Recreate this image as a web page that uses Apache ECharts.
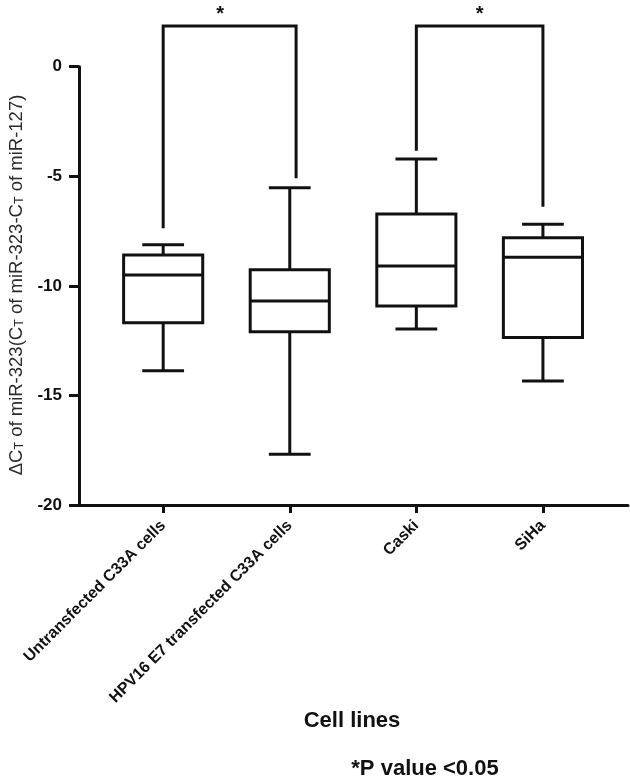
<!DOCTYPE html>
<html>
<head>
<meta charset="utf-8">
<script src="https://cdn.jsdelivr.net/npm/echarts@6/dist/echarts.min.js"></script>
<style>html,body{margin:0;padding:0;background:#fff}#c{width:630px;height:780px}</style>
</head>
<body>
<div id="c"></div>
<script>
// ---- data ----
const categories = ['Untransfected C33A cells', 'HPV16 E7 transfected C33A cells', 'Caski', 'SiHa'];
const whiskerMin = [-13.87, -17.68, -11.97, -14.34];
const q1 = [-11.68, -12.09, -10.92, -12.36];
const median = [-9.50, -10.69, -9.09, -8.70];
const q3 = [-8.59, -9.27, -6.72, -7.80];
const whiskerMax = [-8.13, -5.52, -4.21, -7.19];
const yTicks = [-20, -15, -10, -5, 0];
// significance brackets
const bracketLeftX = [0, 2.0];
const bracketRightX = [1.05, 3.0];
const bracketTopY = [1.86, 1.86];
const bracketLeftEnd = [-7.37, -3.83];
const bracketRightEnd = [-5.09, -6.39];
const starX = [0.45, 2.5];
const starY = [2.4, 2.4];
const starText = ['*', '*'];

// ---- style ----
const INK = '#111';
const LW = 3;
const BOX_W = 0.625;
const CAP_W = 0.33;
const FONT = 'Liberation Sans, Arial, Helvetica, sans-serif';

const boxData = categories.map((c, i) => [i, whiskerMin[i], q1[i], median[i], q3[i], whiskerMax[i]]);
const bracketData = bracketLeftX.map((x, i) => [x, bracketRightX[i], bracketTopY[i], bracketLeftEnd[i], bracketRightEnd[i]]);
const starData = starX.map((x, i) => [x, starY[i], starText[i]]);

function renderBox(params, api) {
  const x = api.value(0);
  const pMin = api.coord([x, api.value(1)]);
  const pQ1 = api.coord([x, api.value(2)]);
  const pMed = api.coord([x, api.value(3)]);
  const pQ3 = api.coord([x, api.value(4)]);
  const pMax = api.coord([x, api.value(5)]);
  const half = api.size([BOX_W, 0])[0] / 2;
  const capHalf = api.size([CAP_W, 0])[0] / 2;
  const cx = pMed[0];
  const ls = { stroke: INK, lineWidth: LW, fill: null };
  return {
    type: 'group',
    children: [
      { type: 'line', shape: { x1: cx, y1: pQ3[1], x2: cx, y2: pMax[1] }, style: ls },
      { type: 'line', shape: { x1: cx, y1: pQ1[1], x2: cx, y2: pMin[1] }, style: ls },
      { type: 'line', shape: { x1: cx - capHalf, y1: pMax[1], x2: cx + capHalf, y2: pMax[1] }, style: ls },
      { type: 'line', shape: { x1: cx - capHalf, y1: pMin[1], x2: cx + capHalf, y2: pMin[1] }, style: ls },
      { type: 'rect', shape: { x: cx - half, y: pQ3[1], width: 2 * half, height: pQ1[1] - pQ3[1] }, style: { stroke: INK, lineWidth: LW, fill: '#fff' } },
      { type: 'line', shape: { x1: cx - half, y1: pMed[1], x2: cx + half, y2: pMed[1] }, style: ls }
    ]
  };
}

function renderBracket(params, api) {
  const a = api.coord([api.value(0), api.value(3)]);
  const b = api.coord([api.value(0), api.value(2)]);
  const c = api.coord([api.value(1), api.value(2)]);
  const d = api.coord([api.value(1), api.value(4)]);
  return {
    type: 'polyline',
    shape: { points: [a, b, c, d] },
    style: { stroke: INK, lineWidth: LW, fill: null, lineJoin: 'miter' }
  };
}

function renderStar(params, api) {
  const p = api.coord([api.value(0), api.value(1)]);
  return {
    type: 'text',
    x: p[0], y: p[1],
    style: {
      text: starText[params.dataIndex],
      fill: INK, font: 'bold 20px ' + FONT,
      align: 'center', verticalAlign: 'middle',
      textAlign: 'center', textVerticalAlign: 'middle'
    }
  };
}

const chart = echarts.init(document.getElementById('c'), null, { renderer: 'canvas' });
chart.setOption({
  backgroundColor: '#fff',
  animation: false,
  grid: { left: 79, right: 2, top: 66.7, bottom: 275, containLabel: false },
  xAxis: {
    type: 'value',
    min: -0.665,
    max: 3.672,
    splitLine: { show: false },
    axisLine: { show: true, onZero: false, lineStyle: { color: INK, width: LW } },
    axisTick: { show: true, length: 8, lineStyle: { color: INK, width: LW }, customValues: [0, 1, 2, 3] },
    axisLabel: {
      customValues: [0, 1, 2, 3],
      formatter: v => categories[Math.round(v)],
      rotate: 45,
      margin: 18,
      color: INK,
      fontWeight: 'bold',
      fontSize: 16,
      fontFamily: FONT
    }
  },
  yAxis: {
    type: 'value',
    min: -20,
    max: 0,
    interval: 5,
    splitLine: { show: false },
    axisLine: { show: true, onZero: false, lineStyle: { color: INK, width: LW } },
    axisTick: { show: true, length: 10, lineStyle: { color: INK, width: LW } },
    axisLabel: {
      customValues: yTicks,
      margin: 17,
      color: INK,
      fontWeight: 'bold',
      fontSize: 17,
      fontFamily: FONT
    }
  },
  graphic: [
    {
      type: 'text',
      x: 15, y: 285,
      rotation: Math.PI / 2,
      style: {
        text: '{n|ΔC}{s|T}{n| of miR-323(C}{s|T}{n| of miR-323-C}{s|T}{n| of miR-127)}',
        rich: {
          n: { fontSize: 18.5, fontFamily: FONT, fill: '#2a2a2a', color: '#2a2a2a', verticalAlign: 'bottom', lineHeight: 22 },
          s: { fontSize: 12.5, fontFamily: FONT, fill: '#2a2a2a', color: '#2a2a2a', verticalAlign: 'bottom', lineHeight: 22 }
        },
        align: 'center', verticalAlign: 'middle',
        textAlign: 'center', textVerticalAlign: 'middle'
      }
    },
    {
      type: 'text',
      x: 352, y: 721,
      style: {
        text: 'Cell lines',
        font: 'bold 22px ' + FONT,
        fill: INK,
        align: 'center', verticalAlign: 'middle',
        textAlign: 'center', textVerticalAlign: 'middle'
      }
    },
    {
      type: 'text',
      x: 425, y: 769,
      style: {
        text: '*P value <0.05',
        font: 'bold 22px ' + FONT,
        fill: INK,
        align: 'center', verticalAlign: 'middle',
        textAlign: 'center', textVerticalAlign: 'middle'
      }
    }
  ],
  series: [
    {
      type: 'custom',
      name: 'box',
      renderItem: renderBox,
      clip: false,
      encode: { x: 0, y: [1, 2, 3, 4, 5] },
      data: boxData
    },
    {
      type: 'custom',
      name: 'bracket',
      renderItem: renderBracket,
      clip: false,
      encode: { x: [0, 1], y: [2, 3, 4] },
      data: bracketData
    },
    {
      type: 'custom',
      name: 'star',
      renderItem: renderStar,
      clip: false,
      encode: { x: 0, y: 1 },
      data: starData
    }
  ]
});
</script>
</body>
</html>
